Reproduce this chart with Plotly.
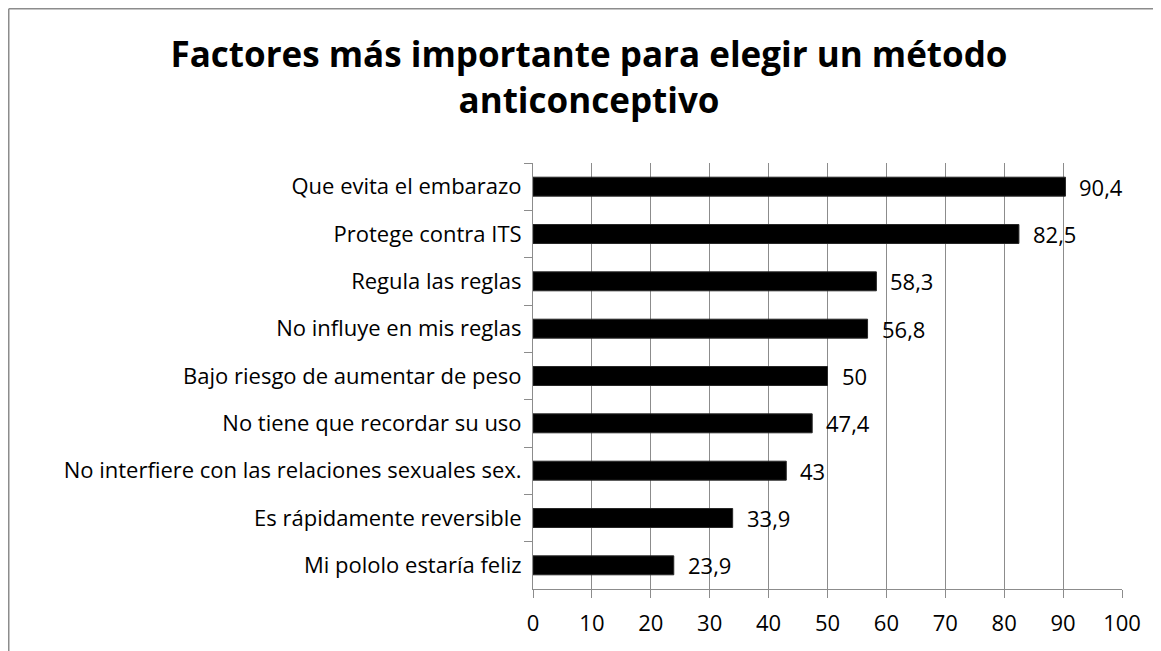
import plotly.graph_objects as go

categories = [
    "Que evita el embarazo",
    "Protege contra ITS",
    "Regula las reglas",
    "No influye en mis reglas",
    "Bajo riesgo de aumentar de peso",
    "No tiene que recordar su uso",
    "No interfiere con las relaciones sexuales sex.",
    "Es rápidamente reversible",
    "Mi pololo estaría feliz",
]
values = [90.4, 82.5, 58.3, 56.8, 50, 47.4, 43, 33.9, 23.9]
x_ticks = [0, 10, 20, 30, 40, 50, 60, 70, 80, 90, 100]
title_text = "Factores más importante para elegir un método<br>anticonceptivo"

FONT = "Open Sans, Carlito, Calibri, sans-serif"
GRID = "#8c8c8c"

# page has an 8px body margin: the figure is drawn 8px right and down
OFF = 8
W, H = 1161 - OFF, 651 - OFF
L, R, T, B = 533 - OFF, 39, 163 - OFF, 651 - 589
pw, ph = W - L - R, H - T - B

fig = go.Figure()
fig.add_trace(go.Bar(
    x=values, y=categories, orientation="h",
    marker=dict(color="#000000", line=dict(color="#262626", width=1)),
    width=0.4,
    hoverinfo="x+y",
))

for c, v in zip(categories, values):
    fig.add_annotation(
        x=v, y=c, xref="x", yref="y",
        text=f"{v:g}".replace(".", ","),
        showarrow=False, xanchor="left", yanchor="middle",
        xshift=12, font=dict(family=FONT, size=22, color="#000000"),
    )


def px(xp):
    return (xp - L) / pw


def py(yp):
    return (H - B - yp) / ph


# chart frame (top and left edges visible)
fig.add_shape(type="line", xref="paper", yref="paper",
              x0=px(0.75), x1=px(W + 5), y0=py(0.75), y1=py(0.75),
              line=dict(color="#8c8c8c", width=1.5))
fig.add_shape(type="line", xref="paper", yref="paper",
              x0=px(0.75), x1=px(0.75), y0=py(0.75), y1=py(H + 5),
              line=dict(color="#8c8c8c", width=1.5))

fig.update_layout(
    width=W, height=H,
    margin=dict(l=L, r=R, t=T, b=B),
    paper_bgcolor="white", plot_bgcolor="white",
    showlegend=False,
    font=dict(family=FONT, size=22, color="#000000"),
    title=dict(
        text=title_text,
        x=(589 - OFF) / W, xref="container", xanchor="center",
        y=1 - (67 - OFF) / H, yanchor="top",
        font=dict(family=FONT, size=35, color="#000000", weight="bold"),
    ),
    xaxis=dict(
        range=[0, 100], tickvals=x_ticks,
        showgrid=True, gridcolor=GRID, gridwidth=1,
        showline=True, linecolor=GRID, linewidth=1,
        ticks="outside", ticklen=8, tickcolor=GRID,
        ticklabelstandoff=7,
        tickfont=dict(family=FONT, size=22, color="#000000"),
        zeroline=False, fixedrange=True,
    ),
    yaxis=dict(
        categoryorder="array", categoryarray=categories,
        autorange="reversed",
        showgrid=False,
        showline=True, linecolor=GRID, linewidth=1,
        ticks="outside", ticklen=8, tickcolor=GRID, tickson="boundaries",
        ticklabelstandoff=6,
        tickfont=dict(family=FONT, size=22, color="#000000"),
        fixedrange=True,
    ),
)

fig.write_html("out.html")
